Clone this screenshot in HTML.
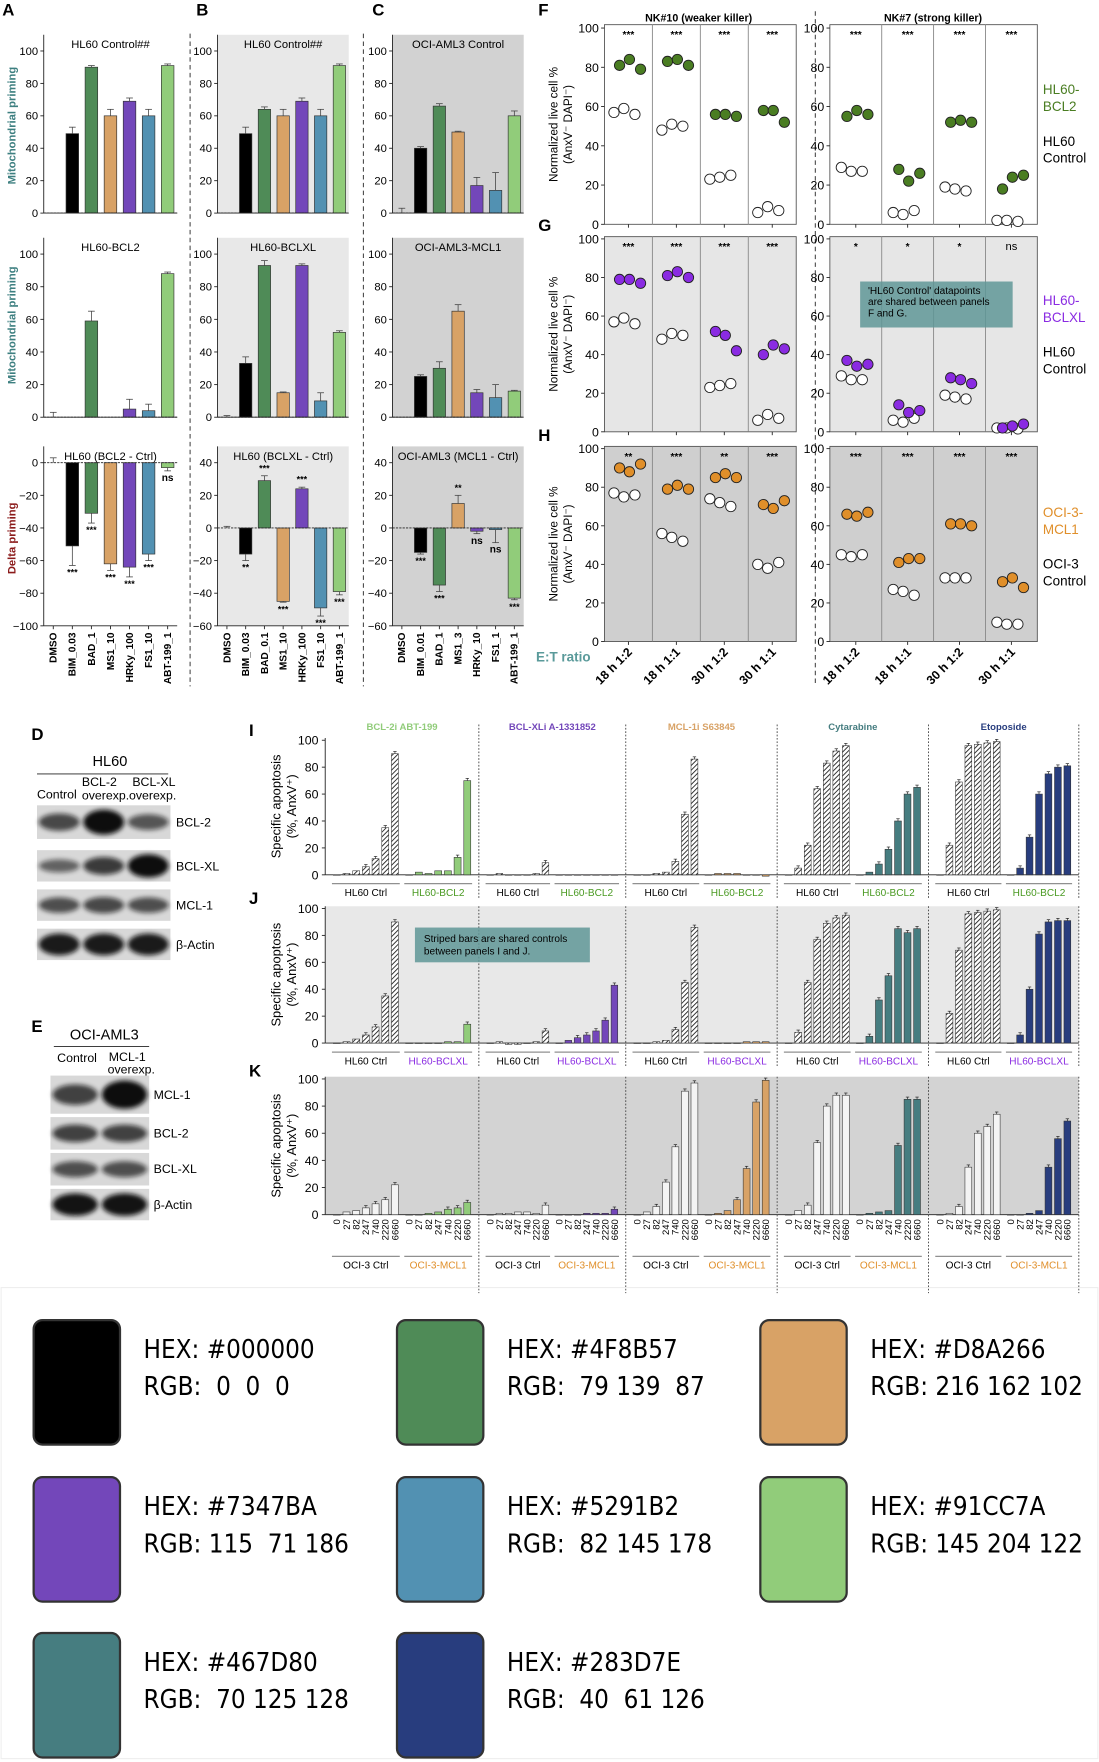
<!DOCTYPE html>
<html><head><meta charset="utf-8"><style>
html,body{margin:0;padding:0;background:#fff;}
svg{display:block;font-family:"Liberation Sans",Arial,sans-serif;}
</style></head><body>
<svg id="fig" xmlns="http://www.w3.org/2000/svg" width="1099" height="1762" viewBox="0 0 980 1571" preserveAspectRatio="none">
<defs>
<pattern id="hatch" patternUnits="userSpaceOnUse" width="3" height="3" patternTransform="rotate(45)">
<rect width="3" height="3" fill="#fff"/><line x1="0" y1="0" x2="0" y2="3" stroke="#222" stroke-width="1.6"/></pattern>
<filter id="blur" x="-20%" y="-50%" width="140%" height="200%"><feGaussianBlur stdDeviation="2.2"/></filter>
</defs>
</svg>
<script>
// ---------- Panels A-C data ----------
const catA = ["DMSO","BIM_0.03","BAD_1","MS1_10","HRKy_100","FS1_10","ABT-199_1"];
const catB = ["DMSO","BIM_0.03","BAD_0.1","MS1_10","HRKy_100","FS1_10","ABT-199_1"];
const catC = ["DMSO","BIM_0.01","BAD_1","MS1_3","HRKy_10","FS1_1","ABT-199_1"];
const barColors = ["#000000","#4F8B57","#D8A266","#7347BA","#5291B2","#91CC7A"];
const aTop = [0,49,90,60,69,60,91];       const aTopErr = [0,4,1,4,2,4,1];
const aMid = [0,0,59,0,5,4,88];           const aMidErr = [3,0,6,0,6,4,1];
const aBot = [0,-51,-31,-62,-64,-56,-3];  const aBotErr = [3,12,6,4,6,4,2];
const aBotSig = ["","***","***","***","***","***","ns"];
const bTop = [0,49,64,60,69,60,91];       const bTopErr = [0,4,1.5,4,2,4,1];
const bMid = [0,33,93,15,93,10,52];       const bMidErr = [1,4,3,0.5,1,5,1];
const bBot = [0,-16,29,-45,24,-49,-39];   const bBotErr = [1,4,3,0.5,1,5,2];
const bBotSig = ["","**","***","***","***","***","***"];
const cTop = [0,40,66,50,17,14,60];       const cTopErr = [3,1,1.5,0.5,5,11,3];
const cMid = [0,25,30,65,15,12,16];       const cMidErr = [0,1,4,4,2,8,0.5];
const cBot = [0,-15,-35,15,-2,-1,-43];    const cBotErr = [0,1,4,5,1.5,8,1];
const cBotSig = ["","***","***","**","ns","ns","***"];
const ticks0to100 = [0,20,40,60,80,100];
const ticksDeltaA = [0,-20,-40,-60,-80,-100];
const ticksDeltaBC = [40,20,0,-20,-40,-60];

// ---------- Panels F-H data (3 replicates per condition) ----------
const etCats = ["18 h 1:2","18 h 1:1","30 h 1:2","30 h 1:1"];
const fL_col = [[81,84,79],[83,84,81],[56,56,55],[58,58,52]];  const fL_ctl = [[57,59,56],[48,51,50],[23,24,25],[6,9,7]];
const fR_col = [[55,58,56],[28,22,26],[52,53,52],[18,24,25]];  const fR_ctl = [[29,27,27],[6,5,7],[19,18,17],[2,2,1.5]];
const gL_col = [[79,79,77],[81,83,80],[52,50,42],[40,45,43]];  const gL_ctl = [[57,59,56],[48,51,50],[23,24,25],[6,9,7]];
const gR_col = [[37,34,35],[14,10,11],[28,27,25],[2,3,4]];     const gR_ctl = [[29,27,27],[6,5,7],[19,18,17],[2,2,1.5]];
const hL_col = [[90,88,92],[79,81,79],[85,87,85],[71,69,73]];  const hL_ctl = [[77,75,76],[56,54,52],[74,72,70],[40,38,41]];
const hR_col = [[66,65,67],[41,43,43],[61,61,60],[31,33,28]];  const hR_ctl = [[45,44,45],[27,26,24],[33,33,33],[10,9,9]];
const fLsig = ["***","***","***","***"], fRsig = ["***","***","***","***"];
const gLsig = ["***","***","***","***"], gRsig = ["*","*","*","ns"];
const hLsig = ["**","***","**","***"],   hRsig = ["***","***","***","***"];

// ---------- Panels I-K data ----------
const doses = ["0","27","82","247","740","2220","6660"];
const drugs = ["BCL-2i ABT-199","BCL-XLi A-1331852","MCL-1i S63845","Cytarabine","Etoposide"];
const drugColors = ["#91CC7A","#7347BA","#D8A266","#467D80","#283D7E"];
const iCtrl = [[0,1,3,6,12,35,90],[0,1,0,0,0,1,9],[0,0,1,2,10,45,86],[0,5,22,64,83,92,96],[0,22,69,96,97,98,99]];
const iTrt  = [[0,2,1,3,3,13,70],[0,0,0,0,0,0,0],[0,1,1,1,0,0,-1],[0,2,8,19,40,60,65],[0,5,28,60,75,80,81]];
const jCtrl = [[0,1,3,6,12,35,90],[0,1,-1,-1,0,1,9],[0,0,1,2,10,45,86],[0,8,45,77,89,93,95],[0,22,69,96,97,98,99]];
const jTrt  = [[0,0,0,0,1,1,14],[0,2,4,6,9,17,43],[0,0,0,0,1,1,1],[0,5,32,50,85,82,85],[0,6,40,81,90,91,91]];
const kCtrl = [[0,2,3,5,8,11,22],[0,1,1,2,2,1,7],[0,2,6,24,50,91,97],[0,3,7,53,80,88,88],[0,1,6,35,60,65,74]];
const kTrt  = [[0,0,1,2,4,5,9],[0,0,0,1,1,1,4],[0,1,3,11,34,83,99],[0,1,2,3,51,85,85],[0,0,1,3,35,56,69]];

// ---------- swatch data ----------
const swHex = ["#000000","#4F8B57","#D8A266","#7347BA","#5291B2","#91CC7A","#467D80","#283D7E"];
const swRgb = [" 0  0  0"," 79 139  87","216 162 102","115  71 186"," 82 145 178","145 204 122"," 70 125 128"," 40  61 126"];

const NS = "http://www.w3.org/2000/svg";
const svg = document.getElementById("fig");
function el(tag, attrs, parent, name){
  const e = document.createElementNS(NS, tag);
  for (const k in attrs) e.setAttribute(k, attrs[k]);
  
  
  (parent || svg).appendChild(e);
  return e;
}
function txt(x,y,s,attrs,parent,name){
  const t = el("text", Object.assign({x:x,y:y}, attrs||{}), parent, name||"label");
  t.textContent = s; return t;
}
function line(x1,y1,x2,y2,attrs,parent,name){ return el("line",Object.assign({x1,y1,x2,y2,stroke:"#222","stroke-width":0.8},attrs||{}),parent,name||"line"); }

// panel letters
[["A",2,14],["B",175,14],["C",332,14],["F",480,14],["G",480,206],["H",480,393],["D",28,660],["E",28,920],["I",222,656],["J",222,806],["K",222,960]].forEach(p=>{
  txt(p[1],p[2],p[0],{"font-size":15,"font-weight":"bold"},svg,"panel-letter-"+p[0].toLowerCase());
});
// dashed separators
line(169.5,30,169.5,612,{"stroke-dasharray":"4,3"},svg,"separator-ab");
line(324,30,324,612,{"stroke-dasharray":"4,3"},svg,"separator-bc");
line(727,10,727,612,{"stroke-dasharray":"4,3"},svg,"separator-fgh");

// ---------- bar chart A-C ----------
function barChart(o){
  const g = el("g",{},svg,o.name);
  const y = v => o.yBot - (v - o.min)/(o.max - o.min)*(o.yBot - o.yTop);
  if (o.bg) el("rect",{x:o.x0,y:o.yTop,width:o.x1-o.x0,height:o.yBot-o.yTop,fill:o.bg},g,"plot-background");
  line(o.x0,o.yTop,o.x0,o.yBot,{},g,"y-axis");
  o.ticks.forEach(t=>{
    line(o.x0-3,y(t),o.x0,y(t),{},g,"y-tick");
    txt(o.x0-5,y(t)+3.5,String(t).replace("-","\u2212"),{"font-size":10,"text-anchor":"end"},g,"y-tick-label");
  });
  const n = o.values.length, step = (o.x1-o.x0)/n, bw = step*0.66;
  o.values.forEach((v,i)=>{
    const cx = o.x0 + step*(i+0.5);
    const col = i===0 ? "#000" : barColors[i-1];
    const top = Math.min(y(v),y(0)), h = Math.abs(y(v)-y(0));
    if (h>0.3) el("rect",{x:cx-bw/2,y:top,width:bw,height:h,fill:col,stroke:"#333","stroke-width":0.6},g,"bar-"+o.cats[i].toLowerCase());
    const e = o.errs[i];
    if (e>0){
      const ye = y(v + (v<0?-e:e));
      line(cx,y(v),cx,ye,{"stroke-width":0.7,stroke:"#444"},g,"error-bar");
      line(cx-3,ye,cx+3,ye,{"stroke-width":0.7,stroke:"#444"},g,"error-cap");
    }
    if (o.sig && o.sig[i]){
      const ys = v<0 ? y(v-e)+9 : y(v+e)-4;
      txt(cx,ys,o.sig[i],{"font-size":o.sig[i]==="ns"?9:8,"text-anchor":"middle","font-weight":"bold"},g,"significance-label");
    }
  });
  line(o.x0,y(0),o.x1,y(0),{"stroke-dasharray":"2,1","stroke-width":0.8},g,"zero-line");
  if (o.min===0) line(o.x0,y(0),o.x1,y(0),{"stroke-width":0.8},g,"x-axis");
  txt((o.x0+o.x1)/2, o.yTop+12, o.title,{"font-size":10,"text-anchor":"middle"},g,"chart-title");
  if (o.xlabels){
    o.cats.forEach((c,i)=>{
      const cx = o.x0 + step*(i+0.5);
      txt(0,0,c,{"font-size":9,"font-weight":"bold","text-anchor":"end",transform:`translate(${cx+3},${o.yBot+6}) rotate(-90)`},g,"x-tick-label");
    });
    o.cats.forEach((c,i)=>{const cx=o.x0+step*(i+0.5); line(cx,o.yBot,cx,o.yBot+3,{},g,"x-tick");});
    line(o.x0,o.yBot,o.x1,o.yBot,{},g,"x-axis");
  }
}
const cols = [
 {x0:39,x1:158,cats:catA,bg:null,rows:[[aTop,aTopErr,null,"HL60 Control##"],[aMid,aMidErr,null,"HL60-BCL2"],[aBot,aBotErr,aBotSig,"HL60 (BCL2 - Ctrl)"]],deltaTicks:ticksDeltaA,dmin:-100,dmax:10},
 {x0:194,x1:311,cats:catB,bg:"#e8e8e8",rows:[[bTop,bTopErr,null,"HL60 Control##"],[bMid,bMidErr,null,"HL60-BCLXL"],[bBot,bBotErr,bBotSig,"HL60 (BCLXL - Ctrl)"]],deltaTicks:ticksDeltaBC,dmin:-60,dmax:50},
 {x0:350,x1:467,cats:catC,bg:"#d2d2d2",rows:[[cTop,cTopErr,null,"OCI-AML3 Control"],[cMid,cMidErr,null,"OCI-AML3-MCL1"],[cBot,cBotErr,cBotSig,"OCI-AML3 (MCL1 - Ctrl)"]],deltaTicks:ticksDeltaBC,dmin:-60,dmax:50}
];
cols.forEach((c,ci)=>{
  barChart({name:"priming-chart-"+ci+"-control",x0:c.x0,x1:c.x1,yTop:31,yBot:190,min:0,max:110,ticks:ticks0to100,values:c.rows[0][0],errs:c.rows[0][1],cats:c.cats,title:c.rows[0][3],bg:c.bg});
  barChart({name:"priming-chart-"+ci+"-overexp",x0:c.x0,x1:c.x1,yTop:212,yBot:372,min:0,max:110,ticks:ticks0to100,values:c.rows[1][0],errs:c.rows[1][1],cats:c.cats,title:c.rows[1][3],bg:c.bg});
  barChart({name:"delta-priming-chart-"+ci,x0:c.x0,x1:c.x1,yTop:398,yBot:558,min:c.dmin,max:c.dmax,ticks:c.deltaTicks,values:c.rows[2][0],errs:c.rows[2][1],sig:c.rows[2][2],cats:c.cats,title:c.rows[2][3],bg:c.bg,xlabels:true});
});
txt(0,0,"Mitochondrial priming",{"font-size":10,"font-weight":"bold",fill:"#3d7f80","text-anchor":"middle",transform:"translate(14,112) rotate(-90)"},svg,"y-axis-title-priming-top");
txt(0,0,"Mitochondrial priming",{"font-size":10,"font-weight":"bold",fill:"#3d7f80","text-anchor":"middle",transform:"translate(14,290) rotate(-90)"},svg,"y-axis-title-priming-mid");
txt(0,0,"Delta priming",{"font-size":10,"font-weight":"bold",fill:"#8b1a1a","text-anchor":"middle",transform:"translate(14,480) rotate(-90)"},svg,"y-axis-title-delta");

// ---------- dot plots F-H ----------
function dotPlot(o){
  const g = el("g",{},svg,o.name);
  const y = v => o.yBot - v/100*(o.yBot-o.y100);
  el("rect",{x:o.x0,y:o.yTop,width:o.x1-o.x0,height:o.yBot-o.yTop,fill:o.bg,stroke:"#555","stroke-width":0.8},g,"plot-background");
  ticks0to100.forEach(t=>{
    line(o.x0-3,y(t),o.x0,y(t),{},g,"y-tick");
    txt(o.x0-5,y(t)+4,String(t),{"font-size":11,"text-anchor":"end"},g,"y-tick-label");
  });
  const w = (o.x1-o.x0)/4;
  const off = [-9,-1,8];
  for (let c=0;c<4;c++){
    const cx = o.x0 + w*(c+0.5);
    if (c>0) line(o.x0+w*c,o.yTop,o.x0+w*c,o.yBot,{stroke:"#888"},g,"column-divider");
    line(cx,o.yBot,cx,o.yBot+3,{},g,"x-tick");
    o.ctl[c].forEach((v,i)=>el("circle",{cx:cx+off[i]*1.1-3,cy:y(v),r:4.6,fill:"#fff",stroke:"#222","stroke-width":0.8},g,"dot-control"));
    o.col[c].forEach((v,i)=>el("circle",{cx:cx+off[i]*1.1+2,cy:y(v),r:4.6,fill:o.color,stroke:"#222","stroke-width":0.8},g,"dot-overexp"));
    txt(cx,o.yTop+12,o.sig[c],{"font-size":o.sig[c]==="ns"?10:9,"font-weight":o.sig[c]==="ns"?"normal":"bold","text-anchor":"middle"},g,"significance-label");
    if (o.xlabels) txt(0,0,etCats[c],{"font-size":11,"font-weight":"bold","text-anchor":"end",transform:`translate(${cx+4},${o.yBot+10}) rotate(-45)`},g,"x-tick-label");
  }
}
const fgh = [
 {rows:[22,200],y100:25,bg:"#fff",color:"#4a7d22",L:[fL_col,fL_ctl,fLsig],R:[fR_col,fR_ctl,fRsig],n:"f"},
 {rows:[211,385],y100:213,bg:"#e6e6e6",color:"#8a2be2",L:[gL_col,gL_ctl,gLsig],R:[gR_col,gR_ctl,gRsig],n:"g"},
 {rows:[398,572],y100:400,bg:"#cfcfcf",color:"#e08f2a",L:[hL_col,hL_ctl,hLsig],R:[hR_col,hR_ctl,hRsig],n:"h"}
];
fgh.forEach((r,ri)=>{
  dotPlot({name:"dotplot-"+r.n+"-nk10",x0:539,x1:710,yTop:r.rows[0],yBot:r.rows[1],y100:r.y100,bg:r.bg,color:r.color,col:r.L[0],ctl:r.L[1],sig:r.L[2],xlabels:ri===2});
  dotPlot({name:"dotplot-"+r.n+"-nk7",x0:740,x1:925,yTop:r.rows[0],yBot:r.rows[1],y100:r.y100,bg:r.bg,color:r.color,col:r.R[0],ctl:r.R[1],sig:r.R[2],xlabels:ri===2});
  const cy = (r.rows[0]+r.rows[1])/2;
  const t = el("text",{"font-size":10.5,"text-anchor":"middle",transform:`translate(497,${cy}) rotate(-90)`},svg,"y-axis-title-"+r.n);
  const a = document.createElementNS(NS,"tspan"); a.setAttribute("x",0); a.setAttribute("dy",0); a.textContent="Normalized live cell %"; t.appendChild(a);
  const b = document.createElementNS(NS,"tspan"); b.setAttribute("x",0); b.setAttribute("dy",13); b.textContent="(AnxV\u207B DAPI\u207B)"; t.appendChild(b);
});
txt(623,19,"NK#10 (weaker killer)",{"font-size":9.5,"font-weight":"bold","text-anchor":"middle"},svg,"title-nk10");
txt(832,19,"NK#7 (strong killer)",{"font-size":9.5,"font-weight":"bold","text-anchor":"middle"},svg,"title-nk7");
[["HL60-","BCL2","#4a7d22","HL60","Control",84,130],["HL60-","BCLXL","#8a2be2","HL60","Control",272,318],["OCI-3-","MCL1","#e08f2a","OCI-3","Control",461,507]].forEach((l,i)=>{
  txt(930,l[5],l[0],{"font-size":12,fill:l[2]},svg,"legend-overexp-line1");
  txt(930,l[5]+15,l[1],{"font-size":12,fill:l[2]},svg,"legend-overexp-line2");
  txt(930,l[6],l[3],{"font-size":12},svg,"legend-control-line1");
  txt(930,l[6]+15,l[4],{"font-size":12},svg,"legend-control-line2");
});
txt(478,590,"E:T ratio",{"font-size":12,"font-weight":"bold",fill:"#5a9a9a"},svg,"x-axis-title-et");
el("rect",{x:767,y:251,width:136,height:41,fill:"#5f9697",opacity:0.85},svg,"annotation-box-fg");
["'HL60 Control' datapoints","are shared between panels","F and G."].forEach((s,i)=>txt(774,262+i*10,s,{"font-size":9},svg,"annotation-text"));

// ---------- western blots D, E ----------
function blot(x,y,w,h,intens,name){
  const g = el("g",{},svg,name);
  el("rect",{x:x,y:y,width:w,height:h,fill:"#d8d8d8"},g,"blot-background");
  const n = intens.length, lw = w/n;
  intens.forEach((v,i)=>{
    el("ellipse",{cx:x+lw*(i+0.5),cy:y+h/2,rx:lw*0.46,ry:h*0.12+h*0.25*v,fill:"#111",opacity:0.35+0.65*v,filter:"url(#blur)"},g,"blot-band");
  });
}
txt(98,683,"HL60",{"font-size":13,"text-anchor":"middle"},svg,"blot-title-hl60");
line(33,690,150,690,{},svg,"blot-header-line");
txt(33,712,"Control",{"font-size":11},svg,"blot-lane-control");
txt(73,701,"BCL-2",{"font-size":11},svg,"blot-lane-bcl2");txt(73,713,"overexp.",{"font-size":11},svg,"blot-lane-bcl2-2");
txt(118,701,"BCL-XL",{"font-size":11},svg,"blot-lane-bclxl");txt(115,713,"overexp.",{"font-size":11},svg,"blot-lane-bclxl-2");
blot(33,718,119,30,[0.55,1,0.45],"blot-d-bcl2"); txt(157,737,"BCL-2",{"font-size":11},svg,"blot-label");
blot(33,758,119,28,[0.35,0.65,1],"blot-d-bclxl"); txt(157,776,"BCL-XL",{"font-size":11},svg,"blot-label");
blot(33,793,119,28,[0.5,0.55,0.5],"blot-d-mcl1"); txt(157,811,"MCL-1",{"font-size":11},svg,"blot-label");
blot(33,828,119,28,[0.9,0.9,0.9],"blot-d-actin"); txt(157,846,"\u03B2-Actin",{"font-size":11},svg,"blot-label");
txt(93,927,"OCI-AML3",{"font-size":13,"text-anchor":"middle"},svg,"blot-title-ociaml3");
line(48,933,133,933,{},svg,"blot-header-line-e");
txt(51,947,"Control",{"font-size":11},svg,"blot-lane-control-e");
txt(97,946,"MCL-1",{"font-size":11},svg,"blot-lane-mcl1");txt(96,957,"overexp.",{"font-size":11},svg,"blot-lane-mcl1-2");
blot(45,959,88,34,[0.6,1],"blot-e-mcl1"); txt(137,980,"MCL-1",{"font-size":11},svg,"blot-label");
blot(45,996,88,29,[0.6,0.6],"blot-e-bcl2"); txt(137,1014,"BCL-2",{"font-size":11},svg,"blot-label");
blot(45,1028,88,29,[0.5,0.5],"blot-e-bclxl"); txt(137,1046,"BCL-XL",{"font-size":11},svg,"blot-label");
blot(45,1060,88,28,[0.95,0.95],"blot-e-actin"); txt(137,1078,"\u03B2-Actin",{"font-size":11},svg,"blot-label");

// ---------- I, J, K ----------
const bounds = [290,427,558,693,828,962];
function apoChart(o){
  const g = el("g",{},svg,o.name);
  const y = v => o.yBot - v/100*(o.yBot-o.y100);
  if (o.bg) el("rect",{x:290,y:o.yTop,width:672,height:o.yBot-o.yTop,fill:o.bg},g,"plot-background");
  line(290,o.yTop,290,o.yBot,{},g,"y-axis");
  line(290,o.yBot,962,o.yBot,{},g,"x-axis");
  ticks0to100.forEach(t=>{
    line(287,y(t),290,y(t),{},g,"y-tick");
    txt(284,y(t)+4,String(t),{"font-size":11,"text-anchor":"end"},g,"y-tick-label");
  });
  for (let d=0; d<5; d++){
    const a = bounds[d], b = bounds[d+1], W = b-a;
    if (d>0) line(a,o.yTop-(o.hdr?12:0),a,o.yBot+(o.xl?70:22),{"stroke-dasharray":"1.5,1.5",stroke:"#444"},svg,"group-divider");
    const half = (W-16)/2, step = half/7, bw = step*0.72;
    [[o.ctrl[d],0],[o.trt[d],1]].forEach(([vals,gi])=>{
      const gx = a + 6 + gi*(half+4);
      vals.forEach((v,i)=>{
        const cx = gx + step*(i+0.5);
        const top = Math.min(y(v),y(0)), h = Math.abs(y(v)-y(0));
        const fill = gi===0 ? (o.hatched?"url(#hatch)":"#f4f4f4") : drugColors[d];
        el("rect",{x:cx-bw/2,y:top,width:bw,height:Math.max(h,0.4),fill:fill,stroke:"#333","stroke-width":0.5},g,"bar-"+(gi?"treated":"control")+"-dose-"+doses[i]);
        if (v>3){ line(cx,y(v),cx,y(v)-2,{"stroke-width":0.6},g,"error-bar"); line(cx-1.5,y(v)-2,cx+1.5,y(v)-2,{"stroke-width":0.6},g,"error-cap"); }
        if (o.xl) txt(0,0,doses[i],{"font-size":8.5,"text-anchor":"end",transform:`translate(${cx+3},${o.yBot+4}) rotate(-90)`},g,"dose-label");
      });
      const gc = gx + half/2;
      const ly = o.xl ? o.yBot+48 : o.yBot+19;
      txt(gc,ly,o.groups[gi],{"font-size":9,"text-anchor":"middle",fill:gi?o.trtColor:"#000"},g,"group-label");
      line(gx,ly-11,gx+half,ly-11,{"stroke-width":0.6},g,"group-bracket");
    });
    if (o.hdr) txt((a+b)/2,o.yTop-7,drugs[d],{"font-size":8.5,"font-weight":"bold","text-anchor":"middle",fill:drugColors[d]},g,"drug-header");
  }
  line(962,o.yTop-(o.hdr?12:0),962,o.yBot+(o.xl?70:22),{"stroke-dasharray":"1.5,1.5",stroke:"#444"},svg,"group-divider-end");
  const t = el("text",{"font-size":11.5,"text-anchor":"middle",transform:`translate(250,${(o.yTop+o.yBot)/2}) rotate(-90)`},svg,"y-axis-title-apoptosis");
  const a1 = document.createElementNS(NS,"tspan"); a1.setAttribute("x",0); a1.textContent="Specific apoptosis"; t.appendChild(a1);
  const a2 = document.createElementNS(NS,"tspan"); a2.setAttribute("x",0); a2.setAttribute("dy",14); a2.textContent="(%, AnxV\u207A)"; t.appendChild(a2);
}
apoChart({name:"chart-i",yTop:658,yBot:780,y100:660,hdr:true,hatched:true,ctrl:iCtrl,trt:iTrt,groups:["HL60 Ctrl","HL60-BCL2"],trtColor:"#4a9a22"});
apoChart({name:"chart-j",yTop:808,yBot:930,y100:810,bg:"#e8e8e8",hatched:true,ctrl:jCtrl,trt:jTrt,groups:["HL60 Ctrl","HL60-BCLXL"],trtColor:"#8a2be2"});
apoChart({name:"chart-k",yTop:960,yBot:1083,y100:962,bg:"#d3d3d3",xl:true,ctrl:kCtrl,trt:kTrt,groups:["OCI-3 Ctrl","OCI-3-MCL1"],trtColor:"#e08f2a"});
el("rect",{x:370,y:827,width:156,height:31,fill:"#5f9697",opacity:0.85},svg,"annotation-box-ij");
txt(378,840,"Striped bars are shared controls",{"font-size":9},svg,"annotation-text");
txt(378,851,"between panels I and J.",{"font-size":9},svg,"annotation-text");

// ---------- colour swatches ----------
el("rect",{x:1,y:1148,width:978,height:420,fill:"none",stroke:"#eee","stroke-width":1},svg,"swatch-frame");
swHex.forEach((h,i)=>{
  const cx = [30,354,678][i%3], cy = [1177,1317,1456][Math.floor(i/3)];
  const g = el("g",{},svg,"swatch-"+h.slice(1).toLowerCase());
  el("rect",{x:cx,y:cy,width:77,height:111,rx:8,fill:h,stroke:"#333","stroke-width":2},g,"swatch-box");
  txt(cx+98,cy+34,"HEX: "+h,{"font-size":23,"font-family":"DejaVu Sans Condensed, Liberation Sans Narrow, sans-serif",style:"white-space:pre"},g,"swatch-hex");
  txt(cx+98,cy+67,"RGB: "+swRgb[i],{"font-size":23,"font-family":"DejaVu Sans Condensed, Liberation Sans Narrow, sans-serif",style:"white-space:pre"},g,"swatch-rgb");
});
</script>
</body></html>
